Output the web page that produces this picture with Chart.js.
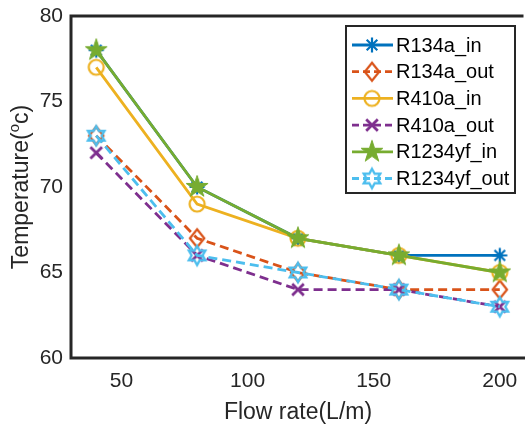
<!DOCTYPE html>
<html>
<head>
<meta charset="utf-8">
<title>Outlet and inlet temperature vs flow rate</title>
<script src="https://cdn.jsdelivr.net/npm/chart.js@4.4.1/dist/chart.umd.min.js"></script>
<style>
  html, body { margin: 0; padding: 0; background: #ffffff; }
  #wrap { width: 525px; height: 428px; }
</style>
</head>
<body>
<div id="wrap"><canvas id="chart" width="525" height="428"></canvas></div>
<script>
// Flow rate (L/m) on the x axis
const flowRates = [40, 80, 120, 160, 200];

// Temperatures (°C) per refrigerant, inlet and outlet
const r134aIn     = [78, 70, 67, 66, 66];
const r134aOut    = [73, 67, 65, 64, 64];
const r410aIn     = [77, 69, 67, 66, 65];
const r410aOut    = [72, 66, 64, 64, 63];
const r1234yfIn   = [78, 70, 67, 66, 65];
const r1234yfOut  = [73, 66, 65, 64, 63];

const seriesNames = ['R134a_in', 'R134a_out', 'R410a_in', 'R410a_out', 'R1234yf_in', 'R1234yf_out'];

// Tick labels
const xTickValues = [50, 100, 150, 200];
const yTickValues = [60, 65, 70, 75, 80];

const FONT = '"Liberation Sans", Arial, Helvetica, sans-serif';
const AXIS_COLOR = '#262626';

// Marker glyphs drawn on small canvases, used as point styles and in the legend
function makeMarker(kind, color) {
  const s = 28;
  const c = document.createElement('canvas');
  c.width = s; c.height = s;
  const g = c.getContext('2d');
  const cx = s / 2, cy = s / 2;
  g.strokeStyle = color;
  g.fillStyle = color;
  g.lineWidth = 2.2;
  g.lineJoin = 'miter';
  g.beginPath();
  if (kind === 'asterisk') {
    const r = 7.5;
    for (let k = 0; k < 4; k++) {
      const a = k * Math.PI / 4;
      g.moveTo(cx - r * Math.cos(a), cy - r * Math.sin(a));
      g.lineTo(cx + r * Math.cos(a), cy + r * Math.sin(a));
    }
    g.stroke();
  } else if (kind === 'diamond') {
    const r = 9;
    g.moveTo(cx, cy - r); g.lineTo(cx + r * 0.8, cy); g.lineTo(cx, cy + r); g.lineTo(cx - r * 0.8, cy);
    g.closePath();
    g.stroke();
  } else if (kind === 'circle') {
    g.arc(cx, cy, 7.5, 0, Math.PI * 2);
    g.stroke();
  } else if (kind === 'x') {
    const r = 5.8;
    g.lineWidth = 2.8;
    g.moveTo(cx - r, cy - r); g.lineTo(cx + r, cy + r);
    g.moveTo(cx + r, cy - r); g.lineTo(cx - r, cy + r);
    g.stroke();
  } else if (kind === 'pentagram') {
    const ro = 11.5, ri = ro * 0.382;
    for (let k = 0; k < 10; k++) {
      const a = -Math.PI / 2 + k * Math.PI / 5;
      const r = k % 2 === 0 ? ro : ri;
      const px = cx + r * Math.cos(a), py = cy + r * Math.sin(a);
      if (k === 0) g.moveTo(px, py); else g.lineTo(px, py);
    }
    g.closePath();
    g.fill();
    g.lineWidth = 1;
    g.stroke();
  } else if (kind === 'hexagram') {
    const ro = 9.5, ri = ro / Math.sqrt(3);
    for (let k = 0; k < 12; k++) {
      const a = -Math.PI / 2 + k * Math.PI / 6;
      const r = k % 2 === 0 ? ro : ri;
      const px = cx + r * Math.cos(a), py = cy + r * Math.sin(a);
      if (k === 0) g.moveTo(px, py); else g.lineTo(px, py);
    }
    g.closePath();
    g.lineWidth = 2.4;
    g.stroke();
  }
  return c;
}

const styles = [
  { color: '#0072BD', dash: [],     marker: 'asterisk' },
  { color: '#D95319', dash: [9, 5], marker: 'diamond' },
  { color: '#EDB120', dash: [],     marker: 'circle' },
  { color: '#7E2F8E', dash: [9, 5], marker: 'x' },
  { color: '#77AC30', dash: [],     marker: 'pentagram' },
  { color: '#4DBEEE', dash: [9, 5], marker: 'hexagram' }
];
const seriesValues = [r134aIn, r134aOut, r410aIn, r410aOut, r1234yfIn, r1234yfOut];

const datasets = seriesValues.map((vals, i) => {
  const st = styles[i];
  const img = makeMarker(st.marker, st.color);
  return {
    label: seriesNames[i],
    data: flowRates.map((x, j) => ({ x: x, y: vals[j] })),
    borderColor: st.color,
    backgroundColor: st.color,
    borderWidth: 2.8,
    borderDash: st.dash,
    pointStyle: img,
    pointRadius: 9,
    pointHoverRadius: 9,
    tension: 0,
    fill: false,
    clip: false,
    order: seriesValues.length - i,
    markerImage: img
  };
});

// Axes box, y title with superscript and the boxed legend
const decorations = {
  id: 'decorations',
  beforeDatasetsDraw(chart) {
    const { ctx, chartArea: a } = chart;
    ctx.save();
    ctx.strokeStyle = AXIS_COLOR;
    ctx.lineWidth = 3;
    ctx.lineCap = 'square';
    ctx.beginPath();
    ctx.moveTo(a.left, a.top);
    ctx.lineTo(a.left, a.bottom);
    ctx.lineTo(a.right, a.bottom);
    ctx.moveTo(a.left, a.top);
    ctx.lineTo(a.right - 3, a.top);
    ctx.stroke();
    ctx.restore();
  },
  afterDraw(chart) {
    const { ctx, chartArea: a } = chart;

    // y-axis title: Temperature(°c) with raised "o"
    ctx.save();
    ctx.translate(28, (a.top + a.bottom) / 2);
    ctx.rotate(-Math.PI / 2);
    ctx.fillStyle = AXIS_COLOR;
    ctx.textBaseline = 'alphabetic';
    ctx.textAlign = 'left';
    const big = '23px ' + FONT, small = '15px ' + FONT;
    const p1 = 'Temperature(', p2 = 'o', p3 = 'c)';
    ctx.font = big; const w1 = ctx.measureText(p1).width, w3 = ctx.measureText(p3).width;
    ctx.font = small; const w2 = ctx.measureText(p2).width;
    let x0 = -(w1 + w2 + w3) / 2;
    ctx.font = big; ctx.fillText(p1, x0, 0); x0 += w1;
    ctx.font = small; ctx.fillText(p2, x0, -9); x0 += w2;
    ctx.font = big; ctx.fillText(p3, x0, 0);
    ctx.restore();

    // legend box
    const L = { left: 346, top: 26, right: 515, bottom: 193 };
    ctx.save();
    ctx.fillStyle = '#ffffff';
    ctx.fillRect(L.left, L.top, L.right - L.left, L.bottom - L.top);
    ctx.strokeStyle = '#262626';
    ctx.lineWidth = 2;
    ctx.strokeRect(L.left, L.top, L.right - L.left, L.bottom - L.top);
    const rowH = 26.7, y0 = 45;
    chart.data.datasets.forEach((ds, i) => {
      const y = y0 + i * rowH;
      ctx.save();
      ctx.strokeStyle = ds.borderColor;
      ctx.lineWidth = 2.8;
      ctx.setLineDash(ds.borderDash.length ? [7, 4] : []);
      ctx.beginPath();
      ctx.moveTo(352, y);
      ctx.lineTo(393, y);
      ctx.stroke();
      ctx.restore();
      const im = ds.markerImage;
      ctx.drawImage(im, 372 - im.width / 2, y - im.height / 2);
      ctx.fillStyle = '#000000';
      ctx.font = '20px ' + FONT;
      ctx.textBaseline = 'middle';
      ctx.textAlign = 'left';
      ctx.fillText(ds.label, 396, y + 1);
    });
    ctx.restore();
  }
};

new Chart(document.getElementById('chart'), {
  type: 'line',
  data: { datasets: datasets },
  options: {
    responsive: false,
    animation: false,
    events: [],
    layout: { autoPadding: false, padding: { top: 16, left: 0, right: 0, bottom: 0 } },
    plugins: {
      legend: { display: false },
      tooltip: { enabled: false }
    },
    scales: {
      x: {
        type: 'linear',
        min: 30,
        max: 210,
        grid: { display: false, drawTicks: false },
        border: { display: false },
        afterBuildTicks(scale) { scale.ticks = xTickValues.map(v => ({ value: v })); },
        afterFit(scale) {
          scale.height = 70;
          scale.paddingLeft = 0; scale.paddingRight = 0;
          scale.paddingTop = 0; scale.paddingBottom = 0;
        },
        ticks: {
          color: AXIS_COLOR,
          font: { family: FONT, size: 21 },
          padding: 11,
          maxRotation: 0,
          autoSkip: false
        },
        title: {
          display: true,
          text: 'Flow rate(L/m)',
          color: AXIS_COLOR,
          font: { family: FONT, size: 23 },
          padding: { top: 0, bottom: 2 }
        }
      },
      y: {
        type: 'linear',
        min: 60,
        max: 80,
        grid: { display: false, drawTicks: false },
        border: { display: false },
        afterBuildTicks(scale) { scale.ticks = yTickValues.map(v => ({ value: v })); },
        afterFit(scale) {
          scale.width = 71;
          scale.paddingLeft = 0; scale.paddingRight = 0;
          scale.paddingTop = 0; scale.paddingBottom = 0;
        },
        ticks: {
          color: AXIS_COLOR,
          font: { family: FONT, size: 21 },
          padding: 8
        }
      }
    }
  },
  plugins: [decorations]
});
</script>
</body>
</html>
